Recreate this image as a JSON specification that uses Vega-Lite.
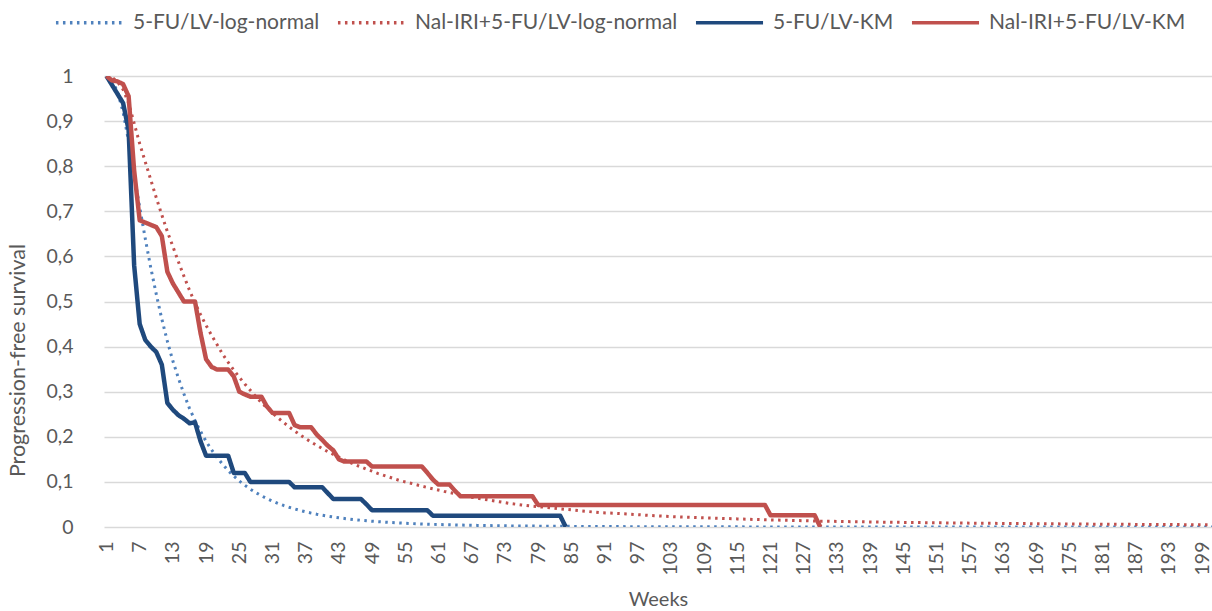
{
  "$schema": "https://vega.github.io/schema/vega-lite/v6.json",
  "width": 1108,
  "height": 451,
  "autosize": {"type": "none"},
  "padding": {"left": 104, "top": 76, "right": 0, "bottom": 84},
  "background": "white",
  "config": {"font": "Lato", "view": {"stroke": null}},
  "datasets": {
    "ln": [
      {"s":"A","w":1,"v":1},{"s":"A","w":2,"v":0.99},{"s":"A","w":3,"v":0.965},{"s":"A","w":4,"v":0.92},{"s":"A","w":5,"v":0.855},{"s":"A","w":6,"v":0.78},{"s":"A","w":7,"v":0.709},{"s":"A","w":8,"v":0.64},{"s":"A","w":9,"v":0.575},{"s":"A","w":10,"v":0.516},
      {"s":"A","w":11,"v":0.461},{"s":"A","w":12,"v":0.412},{"s":"A","w":13,"v":0.368},{"s":"A","w":14,"v":0.33},{"s":"A","w":15,"v":0.295},{"s":"A","w":16,"v":0.263},{"s":"A","w":17,"v":0.236},{"s":"A","w":18,"v":0.212},{"s":"A","w":19,"v":0.19},{"s":"A","w":20,"v":0.171},
      {"s":"A","w":21,"v":0.154},{"s":"A","w":22,"v":0.139},{"s":"A","w":23,"v":0.125},{"s":"A","w":24,"v":0.113},{"s":"A","w":25,"v":0.102},{"s":"A","w":26,"v":0.0925},{"s":"A","w":27,"v":0.0838},{"s":"A","w":28,"v":0.0762},{"s":"A","w":29,"v":0.0693},{"s":"A","w":30,"v":0.063},
      {"s":"A","w":31,"v":0.0574},{"s":"A","w":32,"v":0.0523},{"s":"A","w":33,"v":0.0478},{"s":"A","w":34,"v":0.0437},{"s":"A","w":35,"v":0.0401},{"s":"A","w":36,"v":0.0366},{"s":"A","w":37,"v":0.0336},{"s":"A","w":38,"v":0.0308},{"s":"A","w":39,"v":0.0283},{"s":"A","w":40,"v":0.0261},
      {"s":"A","w":41,"v":0.024},{"s":"A","w":42,"v":0.0222},{"s":"A","w":43,"v":0.0205},{"s":"A","w":44,"v":0.0189},{"s":"A","w":45,"v":0.0174},{"s":"A","w":46,"v":0.0161},{"s":"A","w":47,"v":0.015},{"s":"A","w":48,"v":0.0139},{"s":"A","w":49,"v":0.0128},{"s":"A","w":50,"v":0.0119},
      {"s":"A","w":52,"v":0.0103},{"s":"A","w":54,"v":0.0089},{"s":"A","w":56,"v":0.0077},{"s":"A","w":58,"v":0.0067},{"s":"A","w":60,"v":0.0059},{"s":"A","w":62,"v":0.0052},{"s":"A","w":64,"v":0.0046},{"s":"A","w":66,"v":0.004},{"s":"A","w":68,"v":0.0036},{"s":"A","w":70,"v":0.0032},
      {"s":"A","w":72,"v":0.0028},{"s":"A","w":74,"v":0.0025},{"s":"A","w":76,"v":0.0023},{"s":"A","w":78,"v":0.002},{"s":"A","w":80,"v":0.0018},{"s":"A","w":85,"v":0.0014},{"s":"A","w":90,"v":0.0011},{"s":"A","w":95,"v":0.0008},{"s":"A","w":100,"v":0.0006},{"s":"A","w":110,"v":0.0004},
      {"s":"A","w":120,"v":0.0002},{"s":"A","w":130,"v":0.0001},{"s":"A","w":140,"v":0.0001},{"s":"A","w":150,"v":0.0001},{"s":"A","w":160,"v":0},{"s":"A","w":170,"v":0},{"s":"A","w":180,"v":0},{"s":"A","w":190,"v":0},{"s":"A","w":200,"v":0},{"s":"A","w":201,"v":0},
      {"s":"B","w":1,"v":1},{"s":"B","w":2,"v":0.997},{"s":"B","w":3,"v":0.987},{"s":"B","w":4,"v":0.97},{"s":"B","w":5,"v":0.94},{"s":"B","w":6,"v":0.895},{"s":"B","w":7,"v":0.85},{"s":"B","w":8,"v":0.81},{"s":"B","w":9,"v":0.77},{"s":"B","w":10,"v":0.73},
      {"s":"B","w":11,"v":0.692},{"s":"B","w":12,"v":0.655},{"s":"B","w":13,"v":0.622},{"s":"B","w":14,"v":0.588},{"s":"B","w":15,"v":0.556},{"s":"B","w":16,"v":0.525},{"s":"B","w":17,"v":0.497},{"s":"B","w":18,"v":0.471},{"s":"B","w":19,"v":0.447},{"s":"B","w":20,"v":0.425},
      {"s":"B","w":21,"v":0.404},{"s":"B","w":22,"v":0.383},{"s":"B","w":23,"v":0.365},{"s":"B","w":24,"v":0.348},{"s":"B","w":25,"v":0.332},{"s":"B","w":26,"v":0.317},{"s":"B","w":27,"v":0.303},{"s":"B","w":28,"v":0.289},{"s":"B","w":29,"v":0.276},{"s":"B","w":30,"v":0.264},
      {"s":"B","w":31,"v":0.253},{"s":"B","w":32,"v":0.242},{"s":"B","w":33,"v":0.232},{"s":"B","w":34,"v":0.222},{"s":"B","w":35,"v":0.213},{"s":"B","w":36,"v":0.204},{"s":"B","w":37,"v":0.196},{"s":"B","w":38,"v":0.188},{"s":"B","w":39,"v":0.181},{"s":"B","w":40,"v":0.174},
      {"s":"B","w":41,"v":0.167},{"s":"B","w":42,"v":0.161},{"s":"B","w":43,"v":0.155},{"s":"B","w":44,"v":0.149},{"s":"B","w":45,"v":0.143},{"s":"B","w":46,"v":0.138},{"s":"B","w":47,"v":0.133},{"s":"B","w":48,"v":0.128},{"s":"B","w":49,"v":0.124},{"s":"B","w":50,"v":0.119},
      {"s":"B","w":52,"v":0.111},{"s":"B","w":54,"v":0.103},{"s":"B","w":56,"v":0.097},{"s":"B","w":58,"v":0.0905},{"s":"B","w":60,"v":0.0846},{"s":"B","w":62,"v":0.079},{"s":"B","w":64,"v":0.074},{"s":"B","w":66,"v":0.068},{"s":"B","w":68,"v":0.064},{"s":"B","w":70,"v":0.06},
      {"s":"B","w":72,"v":0.056},{"s":"B","w":74,"v":0.052},{"s":"B","w":76,"v":0.049},{"s":"B","w":78,"v":0.046},{"s":"B","w":80,"v":0.044},{"s":"B","w":85,"v":0.038},{"s":"B","w":90,"v":0.032},{"s":"B","w":95,"v":0.029},{"s":"B","w":100,"v":0.025},{"s":"B","w":105,"v":0.022},
      {"s":"B","w":110,"v":0.02},{"s":"B","w":115,"v":0.018},{"s":"B","w":120,"v":0.016},{"s":"B","w":125,"v":0.0145},{"s":"B","w":130,"v":0.013},{"s":"B","w":135,"v":0.012},{"s":"B","w":140,"v":0.011},{"s":"B","w":145,"v":0.0102},{"s":"B","w":150,"v":0.0095},{"s":"B","w":160,"v":0.0082},
      {"s":"B","w":170,"v":0.0072},{"s":"B","w":180,"v":0.0063},{"s":"B","w":190,"v":0.0056},{"s":"B","w":200,"v":0.005},{"s":"B","w":201,"v":0.005}
    ],
    "km": [
      {"s":"C","w":1,"v":1},{"s":"C","w":2,"v":0.98},{"s":"C","w":3,"v":0.96},{"s":"C","w":4,"v":0.94},{"s":"C","w":5,"v":0.88},{"s":"C","w":6,"v":0.58},{"s":"C","w":7,"v":0.45},{"s":"C","w":8,"v":0.415},{"s":"C","w":9,"v":0.4},{"s":"C","w":10,"v":0.388},
      {"s":"C","w":11,"v":0.36},{"s":"C","w":12,"v":0.275},{"s":"C","w":13,"v":0.26},{"s":"C","w":14,"v":0.248},{"s":"C","w":15,"v":0.24},{"s":"C","w":16,"v":0.23},{"s":"C","w":17,"v":0.232},{"s":"C","w":18,"v":0.19},{"s":"C","w":19,"v":0.158},{"s":"C","w":23,"v":0.158},
      {"s":"C","w":24,"v":0.12},{"s":"C","w":26,"v":0.12},{"s":"C","w":27,"v":0.1},{"s":"C","w":34,"v":0.1},{"s":"C","w":35,"v":0.088},{"s":"C","w":40,"v":0.088},{"s":"C","w":41,"v":0.075},{"s":"C","w":42,"v":0.062},{"s":"C","w":47,"v":0.062},{"s":"C","w":48,"v":0.05},
      {"s":"C","w":49,"v":0.037},{"s":"C","w":59,"v":0.037},{"s":"C","w":60,"v":0.025},{"s":"C","w":83,"v":0.025},{"s":"C","w":84,"v":0},
      {"s":"D","w":1,"v":1},{"s":"D","w":2,"v":0.99},{"s":"D","w":3,"v":0.988},{"s":"D","w":4,"v":0.982},{"s":"D","w":5,"v":0.955},{"s":"D","w":6,"v":0.79},{"s":"D","w":7,"v":0.68},{"s":"D","w":8,"v":0.675},{"s":"D","w":9,"v":0.67},{"s":"D","w":10,"v":0.665},
      {"s":"D","w":11,"v":0.645},{"s":"D","w":12,"v":0.566},{"s":"D","w":13,"v":0.54},{"s":"D","w":14,"v":0.52},{"s":"D","w":15,"v":0.5},{"s":"D","w":17,"v":0.5},{"s":"D","w":18,"v":0.43},{"s":"D","w":19,"v":0.372},{"s":"D","w":20,"v":0.355},{"s":"D","w":21,"v":0.349},
      {"s":"D","w":23,"v":0.349},{"s":"D","w":24,"v":0.334},{"s":"D","w":25,"v":0.3},{"s":"D","w":26,"v":0.294},{"s":"D","w":27,"v":0.289},{"s":"D","w":29,"v":0.289},{"s":"D","w":30,"v":0.267},{"s":"D","w":31,"v":0.253},{"s":"D","w":34,"v":0.253},{"s":"D","w":35,"v":0.226},
      {"s":"D","w":36,"v":0.221},{"s":"D","w":38,"v":0.221},{"s":"D","w":39,"v":0.205},{"s":"D","w":40,"v":0.193},{"s":"D","w":41,"v":0.18},{"s":"D","w":42,"v":0.17},{"s":"D","w":43,"v":0.15},{"s":"D","w":44,"v":0.145},{"s":"D","w":48,"v":0.145},{"s":"D","w":49,"v":0.134},
      {"s":"D","w":58,"v":0.134},{"s":"D","w":59,"v":0.12},{"s":"D","w":60,"v":0.105},{"s":"D","w":61,"v":0.094},{"s":"D","w":63,"v":0.094},{"s":"D","w":64,"v":0.08},{"s":"D","w":65,"v":0.068},{"s":"D","w":78,"v":0.068},{"s":"D","w":79,"v":0.049},{"s":"D","w":120,"v":0.049},
      {"s":"D","w":121,"v":0.026},{"s":"D","w":129,"v":0.026},{"s":"D","w":130,"v":0}
    ]
  },
  "encoding": {
    "x": {
      "field": "w", "type": "quantitative",
      "scale": {"domain": [0.55, 200.8], "nice": false, "zero": false},
      "axis": {
        "values": [1,7,13,19,25,31,37,43,49,55,61,67,73,79,85,91,97,103,109,115,121,127,133,139,145,151,157,163,169,175,181,187,193,199],
        "labelAngle": -90, "grid": false, "domain": false, "ticks": false,
        "labelFontSize": 19.5, "labelColor": "#595959", "labelPadding": 14,
        "title": "Weeks", "titleFontSize": 20, "titleColor": "#595959", "titleFontWeight": "normal", "titlePadding": 15
      }
    },
    "y": {
      "field": "v", "type": "quantitative",
      "scale": {"domain": [0, 1], "nice": false},
      "axis": {
        "values": [0,0.1,0.2,0.3,0.4,0.5,0.6,0.7,0.8,0.9,1],
        "labelExpr": "replace(format(datum.value, '.1~f'), '.', ',')",
        "grid": true, "gridColor": "#D9D9D9", "gridWidth": 1.5,
        "domain": false, "ticks": false,
        "labelFontSize": 19.5, "labelColor": "#595959", "labelPadding": 31,
        "title": "Progression-free survival", "titleFontSize": 21.5, "titleColor": "#595959", "titleFontWeight": "normal", "titlePadding": 16, "titleY": 284
      }
    },
    "color": {
      "field": "s", "type": "nominal",
      "scale": {"domain": ["A","B","C","D"], "range": ["#4F81BD","#C0504D","#1F497D","#C0504D"]},
      "legend": {
        "orient": "none", "legendX": -50, "legendY": -89, "direction": "horizontal", "columns": 4,
        "title": null, "symbolType": "stroke", "symbolSize": 4500, "symbolStrokeWidth": 3.6, "labelLimit": 400,
        "labelFontSize": 21, "labelColor": "#595959", "labelOffset": 8, "columnPadding": 10,
        "labelExpr": "datum.value == 'A' ? '5-FU/LV-log-normal' : datum.value == 'B' ? 'Nal-IRI+5-FU/LV-log-normal' : datum.value == 'C' ? '5-FU/LV-KM' : 'Nal-IRI+5-FU/LV-KM'"
      }
    },
    "strokeDash": {
      "field": "s", "type": "nominal",
      "scale": {"domain": ["A","B","C","D"], "range": [[2.5,4.5],[2.5,4.5],[1,0],[1,0]]}
    }
  },
  "layer": [
    {"data": {"name": "ln"}, "mark": {"type": "line", "clip": true, "strokeJoin": "round", "strokeWidth": 3}},
    {"data": {"name": "km"}, "mark": {"type": "line", "clip": true, "strokeJoin": "round", "strokeWidth": 4.5}}
  ]
}
